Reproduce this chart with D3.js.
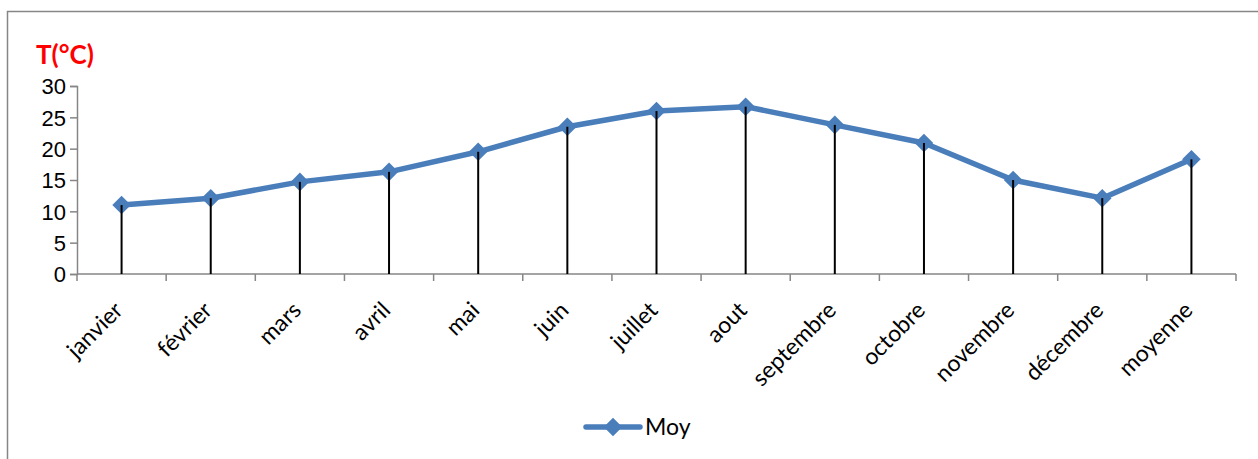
<!DOCTYPE html>
<html>
<head>
<meta charset="utf-8">
<script src="https://cdn.jsdelivr.net/npm/d3@7/dist/d3.min.js"></script>
<style>
  html, body { margin: 0; padding: 0; background: #fff; }
  svg { display: block; font-family: Lato, "Open Sans", sans-serif; }
</style>
</head>
<body>
<svg id="chart" width="1258" height="459"></svg>
<script>
// Monthly mean temperatures (°C)
const months = ["janvier", "février", "mars", "avril", "mai", "juin", "juillet",
                "aout", "septembre", "octobre", "novembre", "décembre", "moyenne"];
const moy = [11.0, 12.1, 14.7, 16.3, 19.5, 23.5, 26.0, 26.7, 23.8, 20.9, 15.0, 12.1, 18.3];
const yTicks = [0, 5, 10, 15, 20, 25, 30];
const seriesName = "Moy";
const yTitle = "T(°C)";

const svg = d3.select("#chart");
const W = 1258, H = 459;
const blue = "#4a7ebb";
const axisGrey = "#868686";

// outer chart frame
svg.append("rect")
  .attr("x", 7.5).attr("y", 11.5)
  .attr("width", W + 10).attr("height", H + 10)
  .attr("fill", "none").attr("stroke", axisGrey).attr("stroke-width", 1.5);

const plot = { left: 77, right: 1236, top: 86, bottom: 274 };

const x = d3.scaleBand().domain(months).range([plot.left, plot.right]).padding(0);
const y = d3.scaleLinear().domain([0, 30]).range([plot.bottom, plot.top]);
const cx = d => x(d) + x.bandwidth() / 2;

// y axis
const yAxis = svg.append("g")
  .attr("transform", `translate(${plot.left},0)`)
  .call(d3.axisLeft(y).tickValues(yTicks).tickSize(7).tickPadding(4));
yAxis.select(".domain").attr("stroke", axisGrey).attr("stroke-width", 1.5);
yAxis.selectAll(".tick line").attr("stroke", axisGrey).attr("stroke-width", 1.5);
yAxis.selectAll(".tick text")
  .attr("fill", "#000").style("font-size", "22px").attr("dy", "0.35em");

// x axis with ticks between categories
const xAxis = svg.append("g")
  .attr("transform", `translate(0,${plot.bottom})`);
xAxis.append("line")
  .attr("x1", plot.left).attr("x2", plot.right)
  .attr("stroke", axisGrey).attr("stroke-width", 1.5);
const bounds = months.map(m => x(m)).concat([x(months[months.length - 1]) + x.bandwidth()]);
xAxis.selectAll("line.tk").data(bounds).join("line")
  .attr("class", "tk")
  .attr("x1", d => d).attr("x2", d => d)
  .attr("y1", 0).attr("y2", 7)
  .attr("stroke", axisGrey).attr("stroke-width", 1.5);
xAxis.selectAll("text").data(months).join("text")
  .attr("transform", d => `translate(${cx(d) - 3},${32}) rotate(-45)`)
  .attr("text-anchor", "end")
  .attr("dy", "0.35em")
  .style("font-size", "23px")
  .attr("fill", "#000")
  .text(d => d);

// axis title
svg.append("text")
  .attr("x", 36).attr("y", 64)
  .attr("fill", "#ff0000")
  .style("font-size", "26px").style("font-weight", "bold")
  .text(yTitle);

// series line
const line = d3.line().x((d, i) => cx(months[i])).y(d => y(d));
svg.append("path")
  .datum(moy)
  .attr("d", line)
  .attr("fill", "none")
  .attr("stroke", blue)
  .attr("stroke-width", 5.5)
  .attr("stroke-linejoin", "round");

// diamond markers
const diamond = d3.symbol().type(d3.symbolDiamond2).size(220);
svg.selectAll("path.mk").data(moy).join("path")
  .attr("class", "mk")
  .attr("d", diamond)
  .attr("transform", (d, i) => `translate(${cx(months[i])},${y(d)})`)
  .attr("fill", blue);

// drop lines from each value down to the axis
svg.selectAll("line.drop").data(moy).join("line")
  .attr("class", "drop")
  .attr("x1", (d, i) => cx(months[i])).attr("x2", (d, i) => cx(months[i]))
  .attr("y1", d => y(d)).attr("y2", y(0))
  .attr("stroke", "#000").attr("stroke-width", 2);

// legend
const lg = svg.append("g").attr("transform", "translate(586,427)");
lg.append("line").attr("x1", 0).attr("x2", 54).attr("y1", 0).attr("y2", 0)
  .attr("stroke", blue).attr("stroke-width", 5.5).attr("stroke-linecap", "round");
lg.append("path").attr("d", diamond).attr("transform", "translate(27,0)").attr("fill", blue);
lg.append("text").attr("x", 59).attr("y", 0).attr("dy", "0.35em")
  .style("font-size", "23px").attr("fill", "#000").text(seriesName);
</script>
</body>
</html>
